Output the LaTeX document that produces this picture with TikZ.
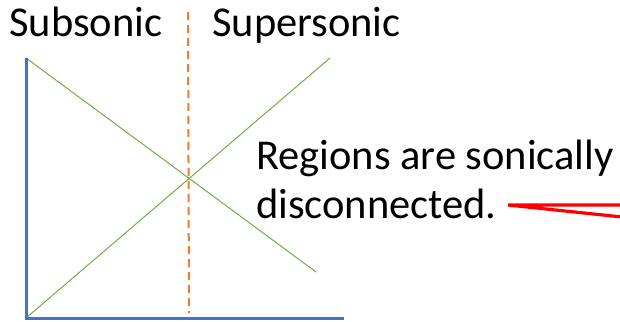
\documentclass[tikz,border=0pt]{standalone}
\usepackage{fontspec}
\setmainfont{Carlito}
\definecolor{axisblue}{HTML}{4472C4}
\definecolor{linegreen}{HTML}{70AD47}
\definecolor{dashorange}{HTML}{ED7D31}
\definecolor{pointred}{HTML}{FF0000}
\tikzset{
  lbl/.style={anchor=base west,inner sep=0pt,font=\fontsize{42.5}{50}\selectfont},
  axisline/.style={draw=axisblue,line width=3pt},
  charline/.style={draw=linegreen,line width=1pt},
  sonicline/.style={draw=dashorange,line width=2pt,dash pattern=on 8pt off 5pt},
  pointer/.style={draw=pointred,line width=3.2pt}
}
\begin{document}
\begin{tikzpicture}[x=1pt,y=-1pt]
\clip (0,0) rectangle (620,321);
\useasboundingbox (0,0) rectangle (620,321);
\coordinate (top) at (26,58);
\coordinate (origin) at (26,318);
\coordinate (xend) at (344,318);
\coordinate (g1) at (316,272);
\coordinate (g2) at (330,58);
\coordinate (dtop) at (188,12);
\coordinate (dbot) at (189,313);
\coordinate (rstart) at (508,205);
\coordinate (r1) at (622,205);
\coordinate (r2) at (622,217);
\node[lbl] (sub) at (9,37) {Subsonic};
\node[lbl] (sup) at (212,37) {Supersonic};
\node[lbl] (reg) at (256,169) {Regions are sonically};
\node[lbl] (dis) at (256,218) {disconnected.};
\draw[sonicline] (dtop) -- (dbot);
\draw[charline] (top) -- (g1);
\draw[charline] (origin) -- (g2);
\draw[axisline] (top) -- (origin) -- (xend);
\draw[pointer] (r1) -- (rstart) -- (r2);
\end{tikzpicture}
\end{document}
